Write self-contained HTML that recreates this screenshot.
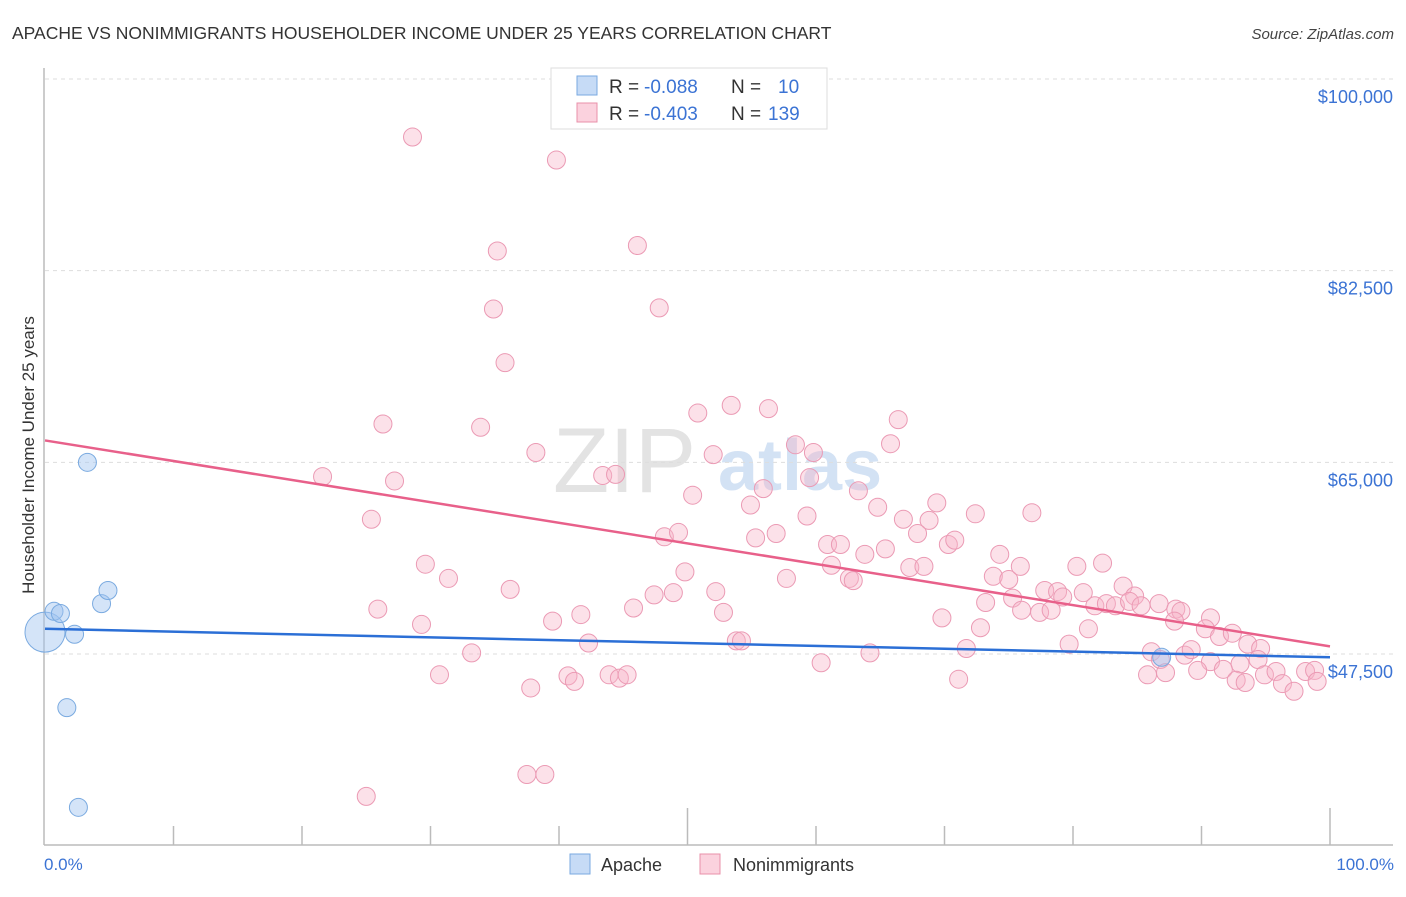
<!DOCTYPE html>
<html><head><meta charset="utf-8"><style>
body{margin:0;background:#fff;font-family:"Liberation Sans",sans-serif}
svg text{font-family:"Liberation Sans",sans-serif}
</style></head><body>
<svg id="chart" width="1406" height="892" viewBox="0 0 1406 892" xmlns="http://www.w3.org/2000/svg">
<text x="12" y="39" font-size="17.5" fill="#333">APACHE VS NONIMMIGRANTS HOUSEHOLDER INCOME UNDER 25 YEARS CORRELATION CHART</text>
<text x="1394" y="39" font-size="15" fill="#444" text-anchor="end" font-style="italic">Source: ZipAtlas.com</text>
<g>
<text x="553" y="492" font-size="92" fill="#d8d8d8" font-family="Liberation Serif,serif" opacity="0.7">ZIP</text>
<text x="718" y="490" font-size="72" fill="#a9c6ea" opacity="0.5" font-weight="bold">atlas</text>
</g>
<g id="grid"></g>
<g id="axes"></g>
<g id="pts"></g>
<g id="trends"></g>
<text transform="translate(34,455) rotate(-90)" font-size="17" fill="#333" text-anchor="middle">Householder Income Under 25 years</text>
<text x="44" y="870" font-size="17" fill="#3b73d4">0.0%</text>
<text x="1394" y="870" font-size="17" fill="#3b73d4" text-anchor="end">100.0%</text>
<g>
<rect x="551" y="68" width="276" height="61" fill="#fff" stroke="#ddd"/>
<rect x="577" y="76" width="20" height="19" fill="rgba(160,195,240,0.6)" stroke="#7aaae0"/>
<rect x="577" y="103" width="20" height="19" fill="rgba(248,180,200,0.6)" stroke="#e890aa"/>
<text x="609" y="93" font-size="19" fill="#333">R = </text>
<text x="644" y="93" font-size="19" fill="#3b73d4">-0.088</text>
<text x="731" y="93" font-size="19" fill="#333">N =</text>
<text x="778" y="93" font-size="19" fill="#3b73d4">10</text>
<text x="609" y="120" font-size="19" fill="#333">R = </text>
<text x="644" y="120" font-size="19" fill="#3b73d4">-0.403</text>
<text x="731" y="120" font-size="19" fill="#333">N =</text>
<text x="768" y="120" font-size="19" fill="#3b73d4">139</text>
</g>
<g>
<rect x="570" y="854" width="20" height="20" fill="rgba(160,195,240,0.6)" stroke="#7aaae0"/>
<text x="601" y="871" font-size="18" fill="#333">Apache</text>
</g>
<g>
<rect x="700" y="854" width="20" height="20" fill="rgba(248,180,200,0.6)" stroke="#e890aa"/>
<text x="733" y="871" font-size="18" fill="#333">Nonimmigrants</text>
</g>
</svg>
<script>
const yTicks=[100000,82500,65000,47500];
const yTickLabels=["$100,000","$82,500","$65,000","$47,500"];
const apacheX=[0,0.7,1.2,2.3,1.7,2.6,3.3,4.4,4.9,86.9];
const apacheY=[49.5,51.4,51.2,49.3,42.6,33.5,65.0,52.1,53.3,47.2];
const apacheR=[20,9,9,9,9,9,9,9,9,9];
const nonX=[28.6,39.8,35.2,46.1,34.9,47.8,35.8,26.3,33.9,53.4,50.8,56.3,66.4,38.2,52.0,58.4,65.8,21.6,27.2,43.4,44.4,59.5,59.8,50.4,54.9,55.9,63.3,64.8,69.4,25.4,59.3,66.8,68.8,72.4,76.8,48.2,49.3,55.3,56.9,60.9,61.9,65.4,67.9,70.3,70.8,74.3,29.6,31.4,49.8,61.2,63.8,67.3,68.4,73.8,75.0,75.9,80.3,82.3,36.2,47.4,48.9,52.2,57.7,62.6,62.9,75.3,77.8,78.8,80.8,83.9,84.8,25.9,41.7,45.8,52.8,69.8,73.2,76.0,77.4,78.3,79.2,81.7,82.6,83.3,84.4,85.3,86.7,88.0,88.4,29.3,39.5,72.8,81.2,87.9,90.7,90.3,91.4,92.4,42.3,53.8,54.2,79.7,33.2,64.2,71.7,86.1,86.8,88.7,89.2,90.7,93.6,94.6,94.4,93.0,30.7,40.7,41.2,43.9,44.7,45.3,60.4,71.1,85.8,87.2,89.7,91.7,92.7,93.4,94.9,95.8,96.3,97.2,98.1,98.8,99.0,37.8,37.5,38.9,25.0];
const nonY=[94.7,92.6,84.3,84.8,79.0,79.1,74.1,68.5,68.2,70.2,69.5,69.9,68.9,65.9,65.7,66.6,66.7,63.7,63.3,63.8,63.9,63.6,65.9,62.0,61.1,62.6,62.4,60.9,61.3,59.8,60.1,59.8,59.7,60.3,60.4,58.2,58.6,58.1,58.5,57.5,57.5,57.1,58.5,57.5,57.9,56.6,55.7,54.4,55.0,55.6,56.6,55.4,55.5,54.6,54.3,55.5,55.5,55.8,53.4,52.9,53.1,53.2,54.4,54.4,54.2,52.6,53.3,53.2,53.1,53.7,52.8,51.6,51.1,51.7,51.3,50.8,52.2,51.5,51.3,51.5,52.7,51.9,52.1,51.9,52.3,51.9,52.1,51.6,51.4,50.2,50.5,49.9,49.8,50.5,50.8,49.8,49.1,49.4,48.5,48.7,48.7,48.4,47.6,47.6,48.0,47.7,47.0,47.4,47.9,46.8,48.4,48.0,47.0,46.6,45.6,45.5,45.0,45.6,45.3,45.6,46.7,45.2,45.6,45.8,46.0,46.1,45.1,44.9,45.6,45.9,44.8,44.1,45.9,46.0,45.0,44.4,36.5,36.5,34.5];
const apacheTrend=[49.8,47.2];
const nonTrend=[67.0,48.2];
const NS='http://www.w3.org/2000/svg';
const xs=p=>45+p/100*1285;
const ys=v=>79+(100000-v)*575/52500;
const yk=k=>ys(k*1000);
function mk(tag,attrs,parent){const e=document.createElementNS(NS,tag);for(const k in attrs)e.setAttribute(k,attrs[k]);parent.appendChild(e);return e;}
const grid=document.getElementById('grid');
yTicks.forEach((t,i)=>{
 const l=mk('line',{x1:45,x2:1393,y1:ys(t),y2:ys(t),stroke:'#ddd','stroke-dasharray':'4,4'},grid);
 
 
 const tx=mk('text',{x:1393,y:ys(t)+24,'font-size':18,fill:'#3b73d4','text-anchor':'end'},grid);
 tx.textContent=yTickLabels[i];
 
 
});
const ax=document.getElementById('axes');
mk('line',{x1:44,x2:44,y1:68,y2:845,stroke:'#bbb','stroke-width':1.5},ax);
mk('line',{x1:44,x2:1393,y1:845,y2:845,stroke:'#bbb','stroke-width':1.5},ax);
for(let i=1;i<=10;i++){const x=xs(i*10);const tall=(i===5||i===10);
 const t=mk('line',{x1:x,x2:x,y1:tall?808:826,y2:845,stroke:'#bbb','stroke-width':1.5},ax);
 
 }
const pts=document.getElementById('pts');
nonX.forEach((x,i)=>{const c=mk('circle',{cx:xs(x),cy:yk(nonY[i]),r:9,fill:'rgba(248,180,200,0.4)',stroke:'#eb9ab4','stroke-width':1},pts);
 
 });
apacheX.forEach((x,i)=>{const c=mk('circle',{cx:xs(x),cy:yk(apacheY[i]),r:apacheR[i],fill:'rgba(160,195,240,0.45)',stroke:'#7aaae0','stroke-width':1},pts);
 
 });
const tr=document.getElementById('trends');
const l1=mk('line',{x1:xs(0),x2:xs(100),y1:yk(nonTrend[0]),y2:yk(nonTrend[1]),stroke:'#e8608a','stroke-width':2.5},tr);


const l2=mk('line',{x1:xs(0),x2:xs(100),y1:yk(apacheTrend[0]),y2:yk(apacheTrend[1]),stroke:'#2b6fd6','stroke-width':2.5},tr);


</script>
</body></html>
